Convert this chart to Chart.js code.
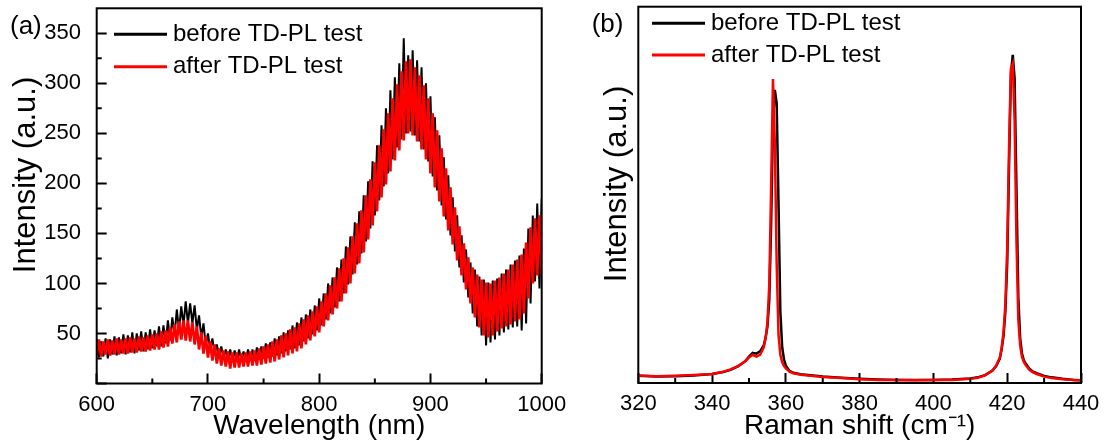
<!DOCTYPE html>
<html>
<head>
<meta charset="utf-8">
<title>PL and Raman before / after TD-PL test</title>
<script src="https://cdn.jsdelivr.net/npm/chart.js@4/dist/chart.umd.min.js"></script>
<style>
  body { margin: 0; background: #fff; }
  #wrap { position: relative; width: 1107px; height: 446px; }
  canvas { position: absolute; top: 0; }
  #plChart { left: 0; }
  #ramanChart { left: 560px; }
</style>
</head>
<body>
<div id="wrap">
  <canvas id="plChart" width="600" height="446"></canvas>
  <canvas id="ramanChart" width="547" height="446"></canvas>
</div>
<script>
// ---- (a) PL spectra, 2 nm steps; the noise band is read as alternating top / bottom values ----
const wavelength = [
  600, 602, 604, 606, 608, 610, 612, 614, 616, 618,
  620, 622, 624, 626, 628, 630, 632, 634, 636, 638,
  640, 642, 644, 646, 648, 650, 652, 654, 656, 658,
  660, 662, 664, 666, 668, 670, 672, 674, 676, 678,
  680, 682, 684, 686, 688, 690, 692, 694, 696, 698,
  700, 702, 704, 706, 708, 710, 712, 714, 716, 718,
  720, 722, 724, 726, 728, 730, 732, 734, 736, 738,
  740, 742, 744, 746, 748, 750, 752, 754, 756, 758,
  760, 762, 764, 766, 768, 770, 772, 774, 776, 778,
  780, 782, 784, 786, 788, 790, 792, 794, 796, 798,
  800, 802, 804, 806, 808, 810, 812, 814, 816, 818,
  820, 822, 824, 826, 828, 830, 832, 834, 836, 838,
  840, 842, 844, 846, 848, 850, 852, 854, 856, 858,
  860, 862, 864, 866, 868, 870, 872, 874, 876, 878,
  880, 882, 884, 886, 888, 890, 892, 894, 896, 898,
  900, 902, 904, 906, 908, 910, 912, 914, 916, 918,
  920, 922, 924, 926, 928, 930, 932, 934, 936, 938,
  940, 942, 944, 946, 948, 950, 952, 954, 956, 958,
  960, 962, 964, 966, 968, 970, 972, 974, 976, 978,
  980, 982, 984, 986, 988, 990, 992, 994, 996, 998,
  1000
];
const plBefore = [
  44, 26, 42, 27, 45, 25, 44, 29, 47, 28,
  46, 30, 49, 29, 48, 31, 51, 30, 50, 33,
  52, 32, 51, 34, 54, 35, 53, 37, 57, 37,
  58, 40, 63, 43, 66, 48, 74, 53, 77, 58,
  82, 60, 80, 60, 78, 54, 68, 46, 60, 38,
  50, 34, 45, 29, 39, 27, 37, 25, 34, 24,
  34, 23, 33, 22, 34, 23, 32, 22, 34, 23,
  34, 23, 36, 24, 37, 25, 40, 26, 41, 27,
  45, 28, 47, 30, 51, 32, 53, 34, 58, 35,
  61, 38, 66, 42, 69, 45, 74, 49, 78, 53,
  85, 58, 90, 64, 100, 70, 106, 76, 116, 82,
  124, 90, 137, 99, 147, 109, 161, 119, 172, 130,
  188, 142, 202, 155, 222, 168, 238, 183, 258, 197,
  275, 210, 293, 224, 306, 236, 320, 244, 345, 250,
  328, 252, 333, 248, 323, 242, 316, 234, 300, 222,
  287, 207, 266, 193, 248, 178, 226, 164, 208, 148,
  186, 132, 168, 116, 148, 101, 134, 86, 121, 70,
  114, 57, 107, 48, 104, 38, 101, 41, 103, 44,
  105, 48, 110, 51, 114, 54, 119, 56, 123, 57,
  128, 53, 135, 60, 155, 80, 168, 102, 180, 95,
  185
];
const plAfter = [
  28, 44, 27, 42, 29, 44, 28, 43, 29, 45,
  29, 44, 30, 45, 30, 46, 31, 45, 31, 47,
  32, 46, 32, 48, 33, 49, 34, 50, 34, 52,
  36, 53, 37, 56, 40, 59, 41, 62, 44, 63,
  43, 63, 42, 61, 39, 57, 34, 51, 30, 47,
  26, 42, 23, 39, 20, 35, 18, 33, 17, 32,
  15, 31, 16, 31, 16, 30, 17, 31, 17, 32,
  18, 33, 18, 35, 19, 37, 20, 39, 21, 42,
  22, 44, 24, 48, 26, 50, 28, 54, 30, 56,
  32, 60, 35, 64, 39, 68, 43, 72, 47, 77,
  51, 82, 57, 90, 63, 98, 69, 106, 75, 115,
  82, 125, 90, 136, 100, 147, 110, 160, 120, 173,
  131, 188, 144, 204, 158, 221, 172, 238, 186, 254,
  199, 270, 212, 285, 223, 299, 233, 312, 243, 322,
  250, 324, 248, 316, 242, 308, 234, 298, 224, 285,
  210, 270, 196, 253, 182, 235, 167, 215, 153, 196,
  139, 176, 123, 157, 108, 140, 94, 126, 80, 116,
  66, 109, 56, 104, 48, 101, 46, 100, 48, 103,
  52, 106, 55, 110, 57, 114, 59, 119, 62, 124,
  64, 129, 70, 141, 85, 156, 100, 165, 108, 168,
  110
];
const plMinorX = [650, 750, 850, 950];
const plMinorY = [25, 75, 125, 175, 225, 275, 325];

// ---- (b) Raman spectra ----
const ramanShift = [
  320, 325, 330, 335, 340, 343, 345, 347, 349, 350,
  351, 352, 353, 354, 354.5, 355, 355.5, 356, 356.5, 357,
  357.5, 358, 358.5, 359, 359.5, 360, 361, 362, 364, 366,
  370, 375, 380, 385, 390, 395, 400, 405, 410, 412,
  414, 416, 417, 418, 418.5, 419, 419.5, 420, 420.5, 421,
  421.5, 422, 422.5, 423, 423.5, 424, 424.5, 425, 426, 427,
  428, 430, 432, 435, 438, 440
];
const ramanBefore = [
  19, 17, 18, 20, 24, 29, 35, 44, 58, 70,
  80, 78, 84, 100, 120, 150, 220, 420, 690, 779,
  745, 480, 190, 95, 62, 46, 32, 27, 23, 21,
  17, 14, 11, 9, 8, 8, 8, 9, 12, 15,
  21, 33, 45, 65, 90, 125, 190, 320, 580, 820,
  872, 810, 520, 230, 120, 78, 60, 52, 38, 30,
  26, 19, 15, 11, 8, 7
];
const ramanAfter = [
  20, 18, 19, 21, 24, 30, 36, 45, 58, 68,
  75, 70, 75, 95, 118, 160, 260, 520, 808, 640,
  320, 130, 75, 55, 45, 39, 30, 26, 22, 20,
  16, 13, 10, 8, 8, 7, 8, 8, 11, 14,
  20, 33, 46, 68, 95, 135, 210, 360, 630, 835,
  848, 700, 380, 170, 100, 70, 56, 48, 35, 28,
  24, 17, 13, 10, 8, 7
];
const ramanMinorX = [330, 350, 370, 390, 410, 430];

const seriesNames = ['before TD-PL test', 'after TD-PL test'];

const FONT = '"Liberation Sans", Arial, sans-serif';
Chart.defaults.font.family = FONT;
Chart.defaults.color = '#000';

function toPoints(xs, ys) {
  return xs.map((x, i) => ({ x: x, y: ys[i] }));
}

// frame, minor ticks, in-plot legend, panel tag and y title
function decorations(cfg) {
  return {
    id: 'decorations',
    afterDraw(chart) {
      const { ctx, chartArea: a, scales } = chart;
      ctx.save();
      ctx.strokeStyle = '#000';
      ctx.lineWidth = 2;
      ctx.strokeRect(a.left, a.top, a.right - a.left, a.bottom - a.top);

      ctx.beginPath();
      cfg.minorX.forEach(v => {
        const x = scales.x.getPixelForValue(v);
        ctx.moveTo(x, a.bottom);
        ctx.lineTo(x, a.bottom - 5);
      });
      cfg.minorY.forEach(v => {
        const y = scales.y.getPixelForValue(v);
        ctx.moveTo(a.left, y);
        ctx.lineTo(a.left + 5, y);
      });
      ctx.stroke();

      ctx.font = '24px ' + FONT;
      ctx.textBaseline = 'middle';
      ctx.textAlign = 'left';
      ctx.fillStyle = '#000';
      chart.data.datasets.forEach((ds, i) => {
        const y = cfg.legendY + i * cfg.legendDy;
        ctx.strokeStyle = ds.borderColor;
        ctx.lineWidth = 3;
        ctx.beginPath();
        ctx.moveTo(cfg.legendX, y);
        ctx.lineTo(cfg.legendX + 53, y);
        ctx.stroke();
        ctx.fillText(ds.label, cfg.legendX + 59, y);
      });

      ctx.font = '26px ' + FONT;
      ctx.fillText(cfg.tag, cfg.tagX, cfg.tagY);

      ctx.translate(cfg.titleX, cfg.titleY);
      ctx.rotate(-Math.PI / 2);
      ctx.font = '31px ' + FONT;
      ctx.textAlign = 'center';
      ctx.fillText('Intensity (a.u.)', 0, 0);
      ctx.restore();
    }
  };
}

function xAxis(min, max, step, title, height) {
  return {
    type: 'linear', min: min, max: max,
    afterFit: s => { s.height = height; s.paddingLeft = 0; s.paddingRight = 0; },
    ticks: { stepSize: step, padding: 18, maxRotation: 0, autoSkip: false, includeBounds: false,
             font: { size: 22 }, callback: v => String(v) },
    grid: { drawOnChartArea: false, tickLength: -10, tickWidth: 2, tickColor: '#000' },
    border: { display: false },
    title: { display: true, text: title, font: { size: 28 }, padding: { top: 0, bottom: 3 } }
  };
}

const lineStyle = { pointRadius: 0, fill: false };

new Chart(document.getElementById('plChart'), {
  type: 'line',
  data: {
    datasets: [
      { label: seriesNames[0], data: toPoints(wavelength, plBefore), borderColor: '#000000',
        borderWidth: 2, borderJoinStyle: 'bevel', order: 1, ...lineStyle },
      { label: seriesNames[1], data: toPoints(wavelength, plAfter), borderColor: '#ff0000',
        borderWidth: 2.7, borderJoinStyle: 'bevel', order: 0, ...lineStyle }
    ]
  },
  options: {
    responsive: false,
    animation: false,
    layout: { padding: { left: 0, top: 8.3, right: 58.3, bottom: 0 } },
    plugins: { legend: { display: false }, tooltip: { enabled: false } },
    scales: {
      x: xAxis(600, 1000, 100, 'Wavelength (nm)', 62.5),
      y: {
        min: 0, max: 375,
        afterFit: s => { s.width = 96.7; s.paddingTop = 0; s.paddingBottom = 0; },
        ticks: { stepSize: 50, padding: 25.7, includeBounds: false, font: { size: 22 },
                 callback: v => (v === 0 ? '' : String(v)) },
        grid: { drawOnChartArea: false, tickLength: -10, tickWidth: 2, tickColor: '#000' },
        border: { display: false }
      }
    }
  },
  plugins: [decorations({
    minorX: plMinorX, minorY: plMinorY,
    legendX: 114, legendY: 34.3, legendDy: 32.4,
    tag: '(a)', tagX: 10, tagY: 26.7,
    titleX: 26, titleY: 175
  })]
});

new Chart(document.getElementById('ramanChart'), {
  type: 'line',
  data: {
    datasets: [
      { label: seriesNames[0], data: toPoints(ramanShift, ramanBefore), borderColor: '#000000', borderWidth: 2.5, order: 1, ...lineStyle },
      { label: seriesNames[1], data: toPoints(ramanShift, ramanAfter), borderColor: '#ff0000', borderWidth: 2.5, order: 0, ...lineStyle }
    ]
  },
  options: {
    responsive: false,
    animation: false,
    layout: { padding: { left: 0, top: 6.7, right: 26, bottom: 0 } },
    plugins: { legend: { display: false }, tooltip: { enabled: false } },
    scales: {
      x: xAxis(320, 440, 20, 'Raman shift (cm\u207B\u00B9)', 63),
      y: {
        min: 0, max: 1000,
        afterFit: s => { s.width = 78.3; s.paddingTop = 0; s.paddingBottom = 0; },
        ticks: { display: false },
        grid: { display: false },
        border: { display: false }
      }
    }
  },
  plugins: [decorations({
    minorX: ramanMinorX, minorY: [],
    legendX: 92, legendY: 23.3, legendDy: 31.7,
    tag: '(b)', tagX: 31.7, tagY: 25,
    titleX: 57, titleY: 184
  })]
});
</script>
</body>
</html>
